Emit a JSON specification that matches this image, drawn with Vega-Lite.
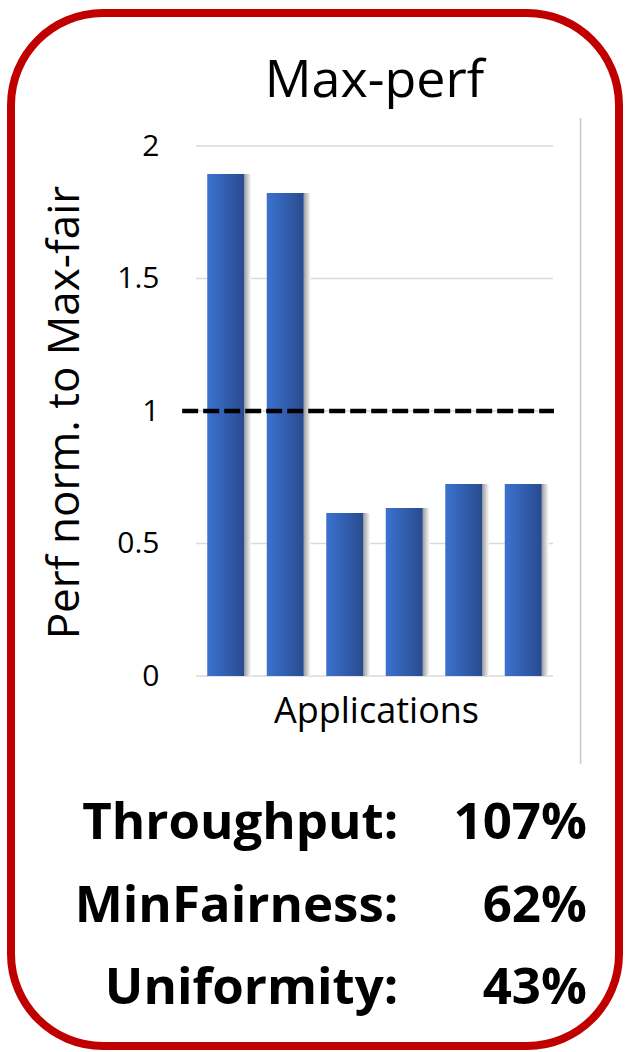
{
  "$schema": "https://vega.github.io/schema/vega-lite/v6.json",
  "width": 608,
  "height": 1033,
  "autosize": "none",
  "padding": {"left": 11, "top": 13, "right": 6, "bottom": 6},
  "background": "white",
  "view": {"stroke": "#C00000", "strokeWidth": 8, "cornerRadius": 92, "fill": "white"},
  "config": {"font": "Open Sans"},
  "datasets": {
    "apps": [
      {"app": 1, "perf": 1.894},
      {"app": 2, "perf": 1.823},
      {"app": 3, "perf": 0.615},
      {"app": 4, "perf": 0.634},
      {"app": 5, "perf": 0.725},
      {"app": 6, "perf": 0.725}
    ],
    "ticks": [{"v": 0}, {"v": 0.5}, {"v": 1}, {"v": 1.5}, {"v": 2}],
    "stats": [
      {"metric": "Throughput:", "value": "107%"},
      {"metric": "MinFairness:", "value": "62%"},
      {"metric": "Uniformity:", "value": "43%"}
    ],
    "titles": [{"title": "Max-perf"}]
  },
  "layer": [
    {
      "layer": [
        {
          "data": {"name": "ticks"},
          "mark": {"type": "rule", "color": "#D9D9D9", "strokeWidth": 1.5},
          "encoding": {
            "y": {
              "field": "v",
              "type": "quantitative",
              "title": "Perf norm. to Max-fair",
              "scale": {"domain": [-1.396, 2.502], "nice": false, "zero": false},
              "axis": {
                "title": "Perf norm. to Max-fair",
                "values": [0, 0.5, 1, 1.5, 2],
                "format": "~g",
                "offset": -183,
                "domain": false,
                "ticks": false,
                "grid": false,
                "labelPadding": 35,
                "labelFontSize": 30,
                "labelColor": "black",
                "labelFont": "Open Sans",
                "labelFlush": false,
                "labelOverlap": false,
                "titleFont": "Open Sans",
                "titleFontSize": 44,
                "titleFontWeight": "normal",
                "titleColor": "black",
                "titleAngle": 270,
                "titleX": -116,
                "titleY": 399,
                "titleBaseline": "alphabetic",
                "titleAlign": "center"
              }
            },
            "x": {
              "datum": 0.5,
              "type": "quantitative",
              "title": "Applications",
              "scale": {"domain": [-2.525, 7.525], "nice": false, "zero": false},
              "axis": {
                "title": "Applications",
                "orient": "bottom",
                "offset": -370,
                "domain": false,
                "ticks": false,
                "labels": false,
                "grid": false,
                "titleFont": "Open Sans",
                "titleFontSize": 36,
                "titleFontWeight": "normal",
                "titleColor": "black",
                "titleX": 365,
                "titleY": 46,
                "titleBaseline": "alphabetic",
                "titleAlign": "center"
              }
            },
            "x2": {"datum": 6.5}
          }
        },
        {
          "data": {"name": "apps"},
          "mark": {
            "type": "bar",
            "width": 7,
            "xOffset": 22,
            "color": {
              "gradient": "linear", "x1": 0, "x2": 1, "y1": 0, "y2": 0,
              "stops": [{"offset": 0, "color": "#9C9C9C"}, {"offset": 1, "color": "#FFFFFF"}]
            }
          },
          "encoding": {
            "x": {"field": "app", "type": "quantitative", "title": "Applications"},
            "y": {"field": "perf", "type": "quantitative", "title": "Perf norm. to Max-fair"},
            "y2": {"datum": 0}
          }
        },
        {
          "data": {"name": "apps"},
          "mark": {
            "type": "bar",
            "width": 37,
            "color": {
              "gradient": "linear", "x1": 0, "x2": 1, "y1": 0, "y2": 0,
              "stops": [{"offset": 0, "color": "#3B72CF"}, {"offset": 1, "color": "#294B8F"}]
            }
          },
          "encoding": {
            "x": {"field": "app", "type": "quantitative", "title": "Applications"},
            "y": {"field": "perf", "type": "quantitative", "title": "Perf norm. to Max-fair"},
            "y2": {"datum": 0}
          }
        },
        {
          "data": {"values": [{}]},
          "mark": {"type": "rule", "color": "black", "strokeWidth": 4.5, "strokeDash": [16, 5]},
          "encoding": {
            "x": {"datum": 0.268, "type": "quantitative", "title": "Applications"},
            "x2": {"datum": 6.516},
            "y": {"datum": 1, "type": "quantitative", "title": "Perf norm. to Max-fair"}
          }
        },
        {
          "data": {"values": [{}]},
          "mark": {"type": "rule", "color": "#C8C8C8", "strokeWidth": 1.5},
          "encoding": {
            "x": {"datum": 6.963, "type": "quantitative", "title": "Applications"},
            "y": {"datum": 2.106, "type": "quantitative", "title": "Perf norm. to Max-fair"},
            "y2": {"datum": -0.332}
          }
        },
        {
          "data": {"name": "titles"},
          "mark": {"type": "text", "font": "Open Sans", "fontSize": 52, "align": "center", "baseline": "alphabetic", "color": "black"},
          "encoding": {
            "text": {"field": "title"},
            "x": {"datum": 3.5, "type": "quantitative", "title": "Applications"},
            "y": {"datum": 2.185, "type": "quantitative", "title": "Perf norm. to Max-fair"}
          }
        }
      ]
    },
    {
      "data": {"name": "stats"},
      "encoding": {
        "y": {
          "field": "metric",
          "type": "nominal",
          "scale": {"type": "point", "domain": ["Throughput:", "MinFairness:", "Uniformity:"], "range": [826, 991], "padding": 0},
          "axis": null
        }
      },
      "layer": [
        {
          "mark": {"type": "text", "font": "Open Sans", "fontSize": 51, "fontWeight": "bold", "align": "right", "baseline": "alphabetic", "color": "black"},
          "encoding": {
            "text": {"field": "metric"},
            "x": {"datum": 3.9, "type": "quantitative", "title": "Applications"}
          }
        },
        {
          "mark": {"type": "text", "font": "Open Sans", "fontSize": 51, "fontWeight": "bold", "align": "right", "baseline": "alphabetic", "color": "black"},
          "encoding": {
            "text": {"field": "value"},
            "x": {"datum": 7.07, "type": "quantitative", "title": "Applications"}
          }
        }
      ]
    }
  ],
  "resolve": {"scale": {"y": "independent"}}
}
